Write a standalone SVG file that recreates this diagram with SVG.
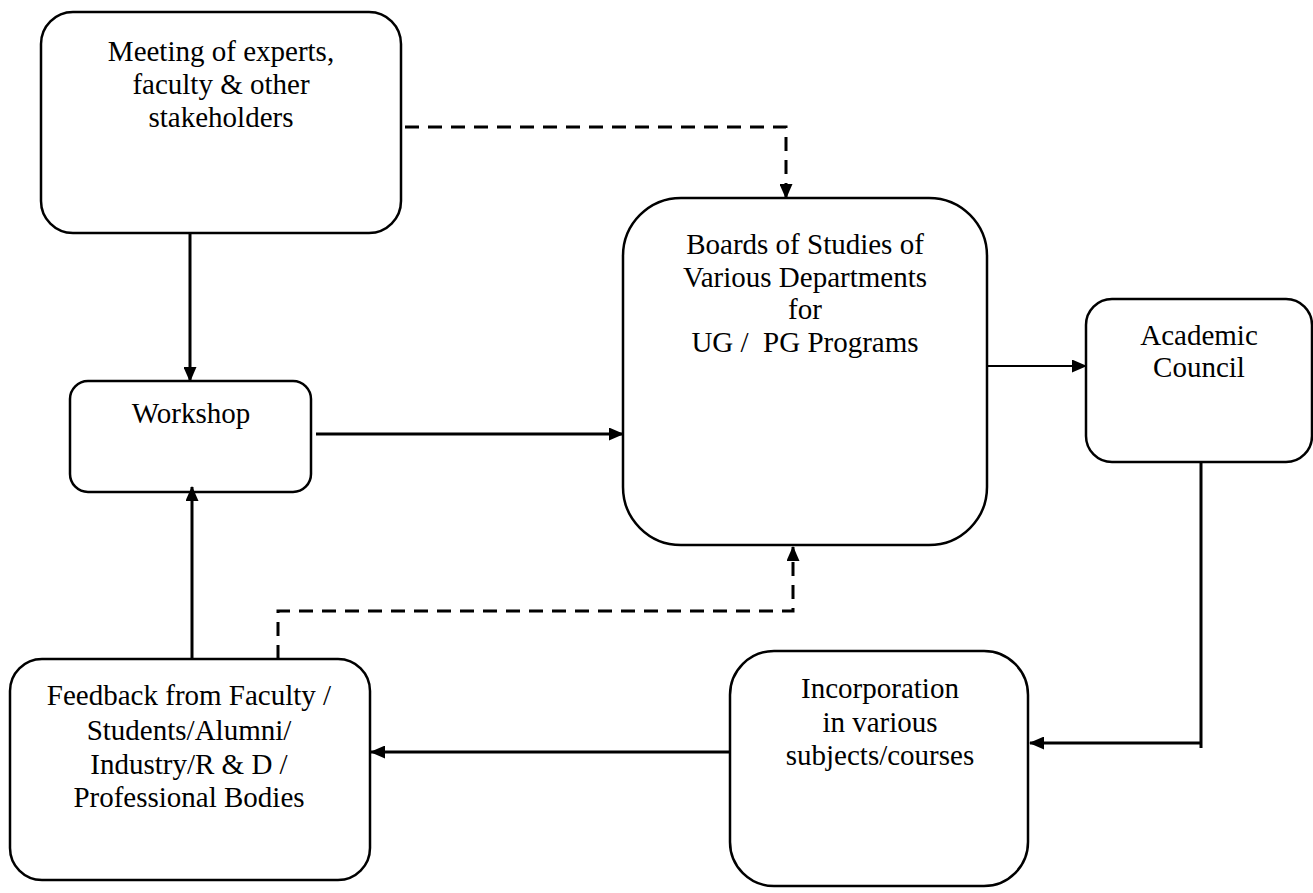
<svg xmlns="http://www.w3.org/2000/svg" width="1313" height="893" viewBox="0 0 1313 893">
<style>
.box{fill:#fff;stroke:#000;stroke-width:2.5}
.t{font-family:"Liberation Serif","Times New Roman",serif;font-size:29px;fill:#000;text-anchor:middle}
.c{fill:none;stroke:#000;stroke-width:3}
.thin{fill:none;stroke:#000;stroke-width:2}
.d{fill:none;stroke:#000;stroke-width:3;stroke-dasharray:14 9}
</style>
<defs>
<marker id="ah" markerWidth="15" markerHeight="13" refX="14" refY="6.5" orient="auto" markerUnits="userSpaceOnUse">
<path d="M0,0 L15,6.5 L0,13 Z" fill="#000"/>
</marker>
</defs>
<rect width="1313" height="893" fill="#fff"/>
<g id="meeting">
<rect class="box" x="41" y="12" width="360" height="221" rx="32"/>
<text class="t" x="221" y="61">Meeting of experts,</text>
<text class="t" x="221" y="94">faculty &amp; other</text>
<text class="t" x="221" y="127">stakeholders</text>
</g>
<g id="workshop">
<rect class="box" x="70" y="381" width="241" height="111" rx="18"/>
<text class="t" x="191" y="423">Workshop</text>
</g>
<g id="boards">
<rect class="box" x="623" y="198" width="364" height="347" rx="58"/>
<text class="t" x="805" y="254">Boards of Studies of</text>
<text class="t" x="805" y="287">Various Departments</text>
<text class="t" x="805" y="319">for</text>
<text class="t" x="805" y="352" xml:space="preserve">UG /  PG Programs</text>
</g>
<g id="academic">
<rect class="box" x="1086" y="299" width="226" height="163" rx="26"/>
<text class="t" x="1199" y="345">Academic</text>
<text class="t" x="1199" y="377">Council</text>
</g>
<g id="incorporation">
<rect class="box" x="730" y="651" width="298" height="235" rx="44"/>
<text class="t" x="880" y="698">Incorporation</text>
<text class="t" x="880" y="732">in various</text>
<text class="t" x="880" y="765">subjects/courses</text>
</g>
<g id="feedback">
<rect class="box" x="10" y="659" width="360" height="221" rx="32"/>
<text class="t" x="189" y="705">Feedback from Faculty /</text>
<text class="t" x="189" y="740">Students/Alumni/</text>
<text class="t" x="189" y="774">Industry/R &amp; D /</text>
<text class="t" x="189" y="807">Professional Bodies</text>
</g>
<g id="connectors">
<path class="c" d="M190,233 L190,381" marker-end="url(#ah)"/>
<path class="c" d="M316,434 L623,434" marker-end="url(#ah)"/>
<path class="c" d="M192,659 L192,487" marker-end="url(#ah)"/>
<path class="thin" d="M987,366 L1086,366" marker-end="url(#ah)"/>
<path class="c" d="M1201,462 L1201,748"/>
<path class="c" d="M1201,743 L1030,743" marker-end="url(#ah)"/>
<path class="c" d="M730,752 L371,752" marker-end="url(#ah)"/>
<path class="d" d="M405,127 L786,127 L786,198" marker-end="url(#ah)"/>
<path class="d" d="M278,659 L278,611 L793,611 L793,547" marker-end="url(#ah)"/>
</g>
</svg>
